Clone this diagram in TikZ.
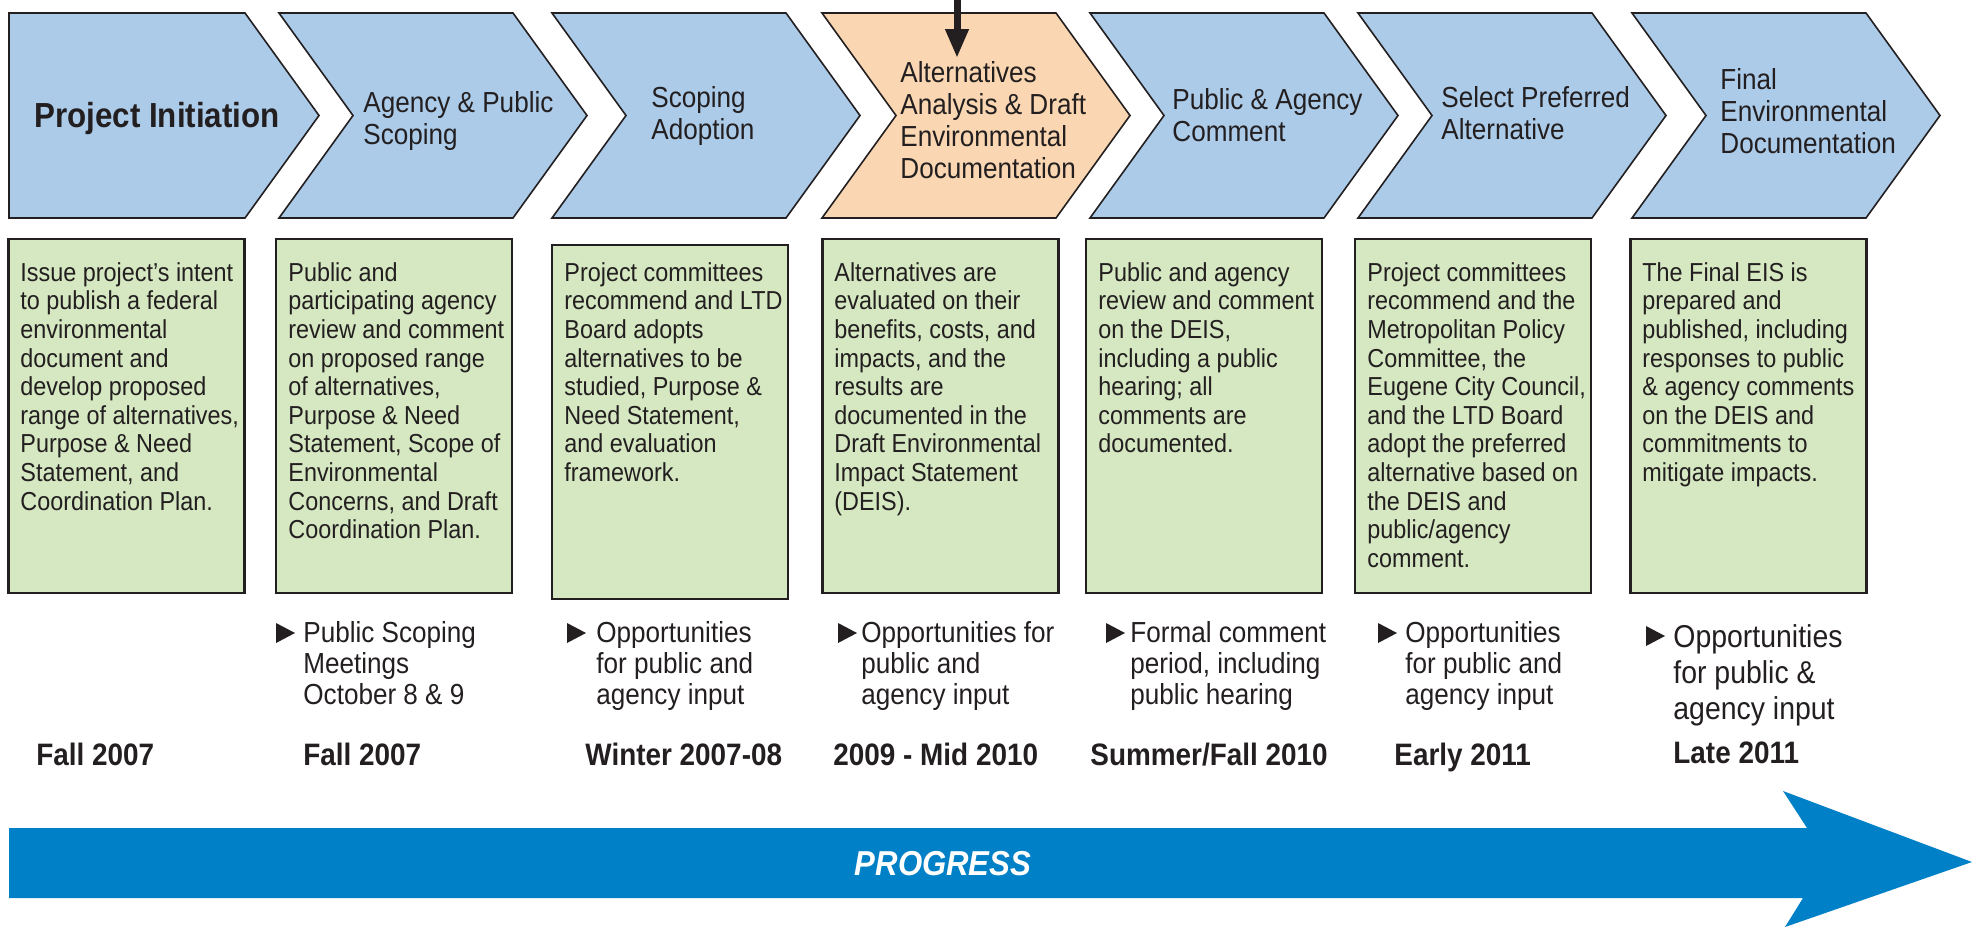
\documentclass[tikz,border=0pt]{standalone}
\usepackage{fontspec}
\setmainfont{Liberation Sans}
\newfontfamily\narrowfont[FakeStretch=0.9]{Liberation Sans}
\usepackage{xcolor}
\usetikzlibrary{arrows.meta}

\definecolor{chevronblue}{RGB}{171,203,233}
\definecolor{chevronorange}{RGB}{250,215,178}
\definecolor{notegreen}{RGB}{213,232,193}
\definecolor{progressblue}{RGB}{0,128,198}
\definecolor{ink}{RGB}{35,31,32}

\begin{document}
\begin{tikzpicture}[x=0.5pt,y=-0.5pt]

\useasboundingbox (0,0) rectangle (1977,928);

\tikzset{
    note/.style = {
    draw=ink, line width=1.4pt, fill=notegreen,
    minimum width=118pt, minimum height=177pt, inner sep=0pt
    },
    textblock/.style = {
    anchor=base west, align=left, inner sep=0pt, text=ink
    },
    % multi-line blocks: placed by the baseline of their first line
    textlines/.style = {
    anchor=north west, align=left, inner sep=0pt, text=ink,
    execute at begin node=\strut
    }
}

\tikzstyle{phase}=[draw=ink, line width=0.8pt, fill=chevronblue, line join=miter]
\tikzstyle{phasenow}=[draw=ink, line width=0.8pt, fill=chevronorange, line join=miter]
\tikzstyle{phaselabel}=[textlines, yshift=11.2pt, font=\narrowfont\fontsize{14.5pt}{16pt}\selectfont]
\tikzstyle{desc}=[textlines, yshift=10.01pt, font=\narrowfont\fontsize{13pt}{14.3pt}\selectfont]
\tikzstyle{opp}=[textlines, yshift=10.85pt, font=\narrowfont\fontsize{14.5pt}{15.5pt}\selectfont]
\tikzstyle{datelabel}=[textblock, font=\narrowfont\bfseries\fontsize{15.5pt}{18pt}\selectfont]

% chevrons
\draw[phase] (9,13) -- (245,13) -- (319,115.5) -- (245,218) -- (9,218) -- cycle;
\draw[phase] (279,13) -- ++(234,0) -- ++(74,102.5) -- ++(-74,102.5) -- ++(-234,0) -- ++(74,-102.5) -- cycle;
\draw[phase] (552,13) -- ++(234,0) -- ++(74,102.5) -- ++(-74,102.5) -- ++(-234,0) -- ++(74,-102.5) -- cycle;
\draw[phasenow] (822,13) -- ++(234,0) -- ++(74,102.5) -- ++(-74,102.5) -- ++(-234,0) -- ++(74,-102.5) -- cycle;
\draw[phase] (1090,13) -- ++(234,0) -- ++(74,102.5) -- ++(-74,102.5) -- ++(-234,0) -- ++(74,-102.5) -- cycle;
\draw[phase] (1358,13) -- ++(234,0) -- ++(74,102.5) -- ++(-74,102.5) -- ++(-234,0) -- ++(74,-102.5) -- cycle;
\draw[phase] (1632,13) -- ++(234,0) -- ++(74,102.5) -- ++(-74,102.5) -- ++(-234,0) -- ++(74,-102.5) -- cycle;

\node (phase-1) [textblock, font=\narrowfont\bfseries\fontsize{17.4pt}{20pt}\selectfont] at (34,127) {Project Initiation};
\node (phase-2) [phaselabel] at (363,113) {Agency \& Public\\Scoping};
\node (phase-3) [phaselabel] at (651,108) {Scoping\\Adoption};
\node (phase-4) [phaselabel] at (900,83) {Alternatives\\Analysis \& Draft\\Environmental\\Documentation};
\node (phase-5) [phaselabel] at (1172,110) {Public \& Agency\\Comment};
\node (phase-6) [phaselabel] at (1441,108) {Select Preferred\\Alternative};
\node (phase-7) [phaselabel] at (1720,90) {Final\\Environmental\\Documentation};

\coordinate (now-top) at (957,-6);
\coordinate (now-in) at (957,58);
\draw[ink, line width=3.5pt, -{Triangle[width=11pt,length=14.5pt]}] (now-top) -- (now-in);

% description boxes
\node (note-1) [note] at (126.5,416) {};
\node (note-2) [note] at (394,416) {};
\node (note-3) [note] at (670,422) {};
\node (note-4) [note] at (940.5,416) {};
\node (note-5) [note] at (1204,416) {};
\node (note-6) [note] at (1473,416) {};
\node (note-7) [note] at (1748.5,416) {};

\node (desc-1) [desc] at (20,282) {Issue project’s intent\\to publish a federal\\environmental\\document and\\develop proposed\\range of alternatives,\\Purpose \& Need\\Statement, and\\Coordination Plan.};
\node (desc-2) [desc] at (288,282) {Public and\\participating agency\\review and comment\\on proposed range\\of alternatives,\\Purpose \& Need\\Statement, Scope of\\Environmental\\Concerns, and Draft\\Coordination Plan.};
\node (desc-3) [desc] at (564,282) {Project committees\\recommend and LTD\\Board adopts\\alternatives to be\\studied, Purpose \&\\Need Statement,\\and evaluation\\framework.};
\node (desc-4) [desc] at (834,282) {Alternatives are\\evaluated on their\\benefits, costs, and\\impacts, and the\\results are\\documented in the\\Draft Environmental\\Impact Statement\\(DEIS).};
\node (desc-5) [desc] at (1098,282) {Public and agency\\review and comment\\on the DEIS,\\including a public\\hearing; all\\comments are\\documented.};
\node (desc-6) [desc] at (1367,282) {Project committees\\recommend and the\\Metropolitan Policy\\Committee, the\\Eugene City Council,\\and the LTD Board\\adopt the preferred\\alternative based on\\the DEIS and\\public/agency\\comment.};
\node (desc-7) [desc] at (1642,282) {The Final EIS is\\prepared and\\published, including\\responses to public\\\& agency comments\\on the DEIS and\\commitments to\\mitigate impacts.};

% opportunities
\fill[ink] (276,623) -- ++(19,10) -- ++(-19,10) -- cycle;
\fill[ink] (567,623) -- ++(19,10) -- ++(-19,10) -- cycle;
\fill[ink] (838,623) -- ++(19,10) -- ++(-19,10) -- cycle;
\fill[ink] (1106,623) -- ++(19,10) -- ++(-19,10) -- cycle;
\fill[ink] (1378,623) -- ++(19,10) -- ++(-19,10) -- cycle;
\fill[ink] (1646,626) -- ++(19,10) -- ++(-19,10) -- cycle;

\node (opp-2) [opp] at (303,643) {Public Scoping\\Meetings\\October 8 \& 9};
\node (opp-3) [opp] at (596,643) {Opportunities\\for public and\\agency input};
\node (opp-4) [opp] at (861,643) {Opportunities for\\public and\\agency input};
\node (opp-5) [opp] at (1130,643) {Formal comment\\period, including\\public hearing};
\node (opp-6) [opp] at (1405,643) {Opportunities\\for public and\\agency input};
\node (opp-7) [textlines, yshift=12.6pt, font=\narrowfont\fontsize{15.8pt}{18pt}\selectfont] at (1673,649) {Opportunities\\for public \&\\agency input};

% dates
\node (date-1) [datelabel] at (36,765) {Fall 2007};
\node (date-2) [datelabel] at (303,765) {Fall 2007};
\node (date-3) [datelabel] at (585,765) {Winter 2007-08};
\node (date-4) [datelabel] at (833,765) {2009 - Mid 2010};
\node (date-5) [datelabel] at (1090,765) {Summer/Fall 2010};
\node (date-6) [datelabel] at (1394,765) {Early 2011};
\node (date-7) [datelabel] at (1673,763) {Late 2011};

% progress arrow
\fill[progressblue] (9,828) -- (1807,828) -- (1783,791) -- (1972,862) -- (1785,927) -- (1803,898) -- (9,898) -- cycle;
\node (progress) [text=white, font=\narrowfont\bfseries\itshape\fontsize{17.3pt}{20pt}\selectfont] at (943,864) {PROGRESS};

\end{tikzpicture}
\end{document}
